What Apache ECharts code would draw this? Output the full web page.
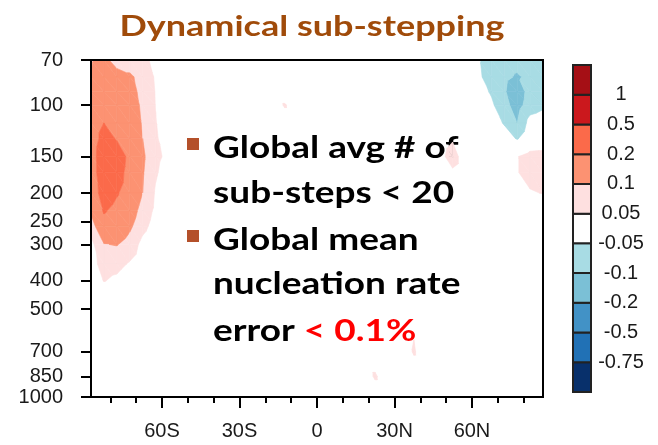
<!DOCTYPE html>
<html>
<head>
<meta charset="utf-8">
<script src="https://cdn.jsdelivr.net/npm/echarts@6/dist/echarts.min.js"></script>
<style>
  html, body { margin: 0; padding: 0; background: #fff; }
  #chart { width: 658px; height: 445px; }
</style>
</head>
<body>
<div id="chart"></div>
<script>
// Zonal-mean nucleation rate difference, latitude x pressure (hPa)
const latitudes = [-87.5, -82.5, -77.5, -72.5, -67.5, -62.5, -57.5, -52.5, -47.5, -42.5, -37.5, -32.5,
  -27.5, -22.5, -17.5, -12.5, -7.5, -2.5, 2.5, 7.5, 12.5, 17.5, 22.5, 27.5,
  32.5, 37.5, 42.5, 47.5, 52.5, 57.5, 62.5, 67.5, 72.5, 77.5, 82.5, 87.5];
const pressureLevels = [70, 80, 90, 100, 115, 130, 150, 170, 200, 230, 260, 300, 350, 400, 450, 500, 600, 700, 850, 1000];

// one row per pressure level, one column per latitude
const diffField = [
  [.095, .12, .07, .07, .065, .035, 0, 0,   0, 0, 0, 0, 0, 0, 0, 0,   0, 0, 0, 0, 0, 0, 0, 0,   0, 0, 0, 0, 0, -.01, -.045, -.07,   -.08, -.085, -.08, -.075],
  [.10, .14, .13, .11, .08, .045, .01, 0,   0, 0, 0, 0, 0, 0, 0, 0,   0, 0, 0, 0, 0, 0, 0, 0,   0, 0, 0, 0, 0, -.01, -.04, -.075,   -.09, -.105, -.09, -.08],
  [.10, .16, .15, .12, .085, .048, .01, 0,   0, 0, 0, 0, 0, 0, 0, 0,   0, 0, 0, 0, 0, 0, 0, 0,   0, 0, 0, 0, 0, -.005, -.03, -.055,   -.095, -.13, -.08, -.075],
  [.11, .18, .16, .13, .09, .049, .015, 0,   0, 0, 0, 0, 0, 0, 0, .058,   0, 0, 0, 0, 0, 0, 0, 0,   0, 0, 0, 0, 0, 0, -.02, -.04,   -.085, -.12, -.075, -.06],
  [.12, .20, .18, .14, .095, .052, .02, 0,   0, 0, 0, 0, 0, 0, 0, 0,   0, 0, 0, 0, 0, 0, 0, 0,   0, 0, 0, 0, 0, 0, 0, -.02,   -.055, -.10, -.03, -.02],
  [.12, .25, .19, .15, .10, .055, .03, 0,   0, 0, 0, 0, 0, 0, 0, 0,   0, 0, 0, 0, 0, 0, 0, 0,   0, 0, 0, 0, .04, 0, 0, 0,   -.02, -.055, -.01, -.01],
  [.13, .30, .27, .17, .11, .06, .04, 0,   0, 0, 0, 0, 0, 0, 0, 0,   0, 0, 0, 0, 0, 0, 0, 0,   0, 0, 0, .02, .09, 0, 0, 0,   0, .047, .075, .08],
  [.13, .29, .25, .16, .105, .055, .03, 0,   0, 0, 0, 0, 0, 0, 0, 0,   0, 0, 0, 0, 0, 0, 0, 0,   0, 0, 0, 0, .035, 0, 0, 0,   0, .047, .07, .075],
  [.12, .26, .21, .15, .10, .045, .02, 0,   0, 0, 0, 0, 0, 0, 0, 0,   0, 0, 0, 0, 0, 0, 0, 0,   0, 0, 0, 0, 0, 0, 0, 0,   0, .02, .045, .052],
  [.11, .21, .17, .13, .08, .04, .01, 0,   0, 0, 0, 0, 0, 0, 0, 0,   0, 0, 0, 0, 0, 0, 0, 0,   0, 0, 0, 0, 0, 0, 0, 0,   0, 0, 0, 0],
  [.07, .16, .14, .11, .065, .03, 0, 0,   0, 0, 0, 0, 0, 0, 0, 0,   0, 0, 0, 0, 0, 0, 0, 0,   0, 0, 0, 0, 0, 0, 0, 0,   0, 0, 0, 0],
  [.035, .098, .103, .08, .035, .01, 0, 0,   0, 0, 0, 0, 0, 0, 0, 0,   0, 0, 0, 0, 0, 0, 0, 0,   0, 0, 0, 0, 0, 0, 0, 0,   0, 0, 0, 0],
  [.03, .07, .065, .045, .02, 0, 0, 0,   0, 0, 0, 0, 0, 0, 0, 0,   0, 0, 0, 0, 0, 0, 0, 0,   0, 0, 0, 0, 0, 0, 0, 0,   0, 0, 0, 0],
  [.02, .052, .04, .02, 0, 0, 0, 0,   0, 0, 0, 0, 0, 0, 0, 0,   0, 0, 0, 0, 0, 0, 0, 0,   0, 0, 0, 0, 0, 0, 0, 0,   0, 0, 0, 0],
  [0, 0, 0, 0, 0, 0, 0, 0,   0, 0, 0, 0, 0, 0, 0, 0,   0, 0, 0, 0, 0, 0, 0, 0,   0, 0, 0, 0, 0, 0, 0, 0,   0, 0, 0, 0],
  [0, 0, 0, 0, 0, 0, 0, 0,   0, 0, 0, 0, 0, 0, 0, 0,   0, 0, 0, 0, 0, 0, 0, 0,   0, 0, 0, 0, 0, 0, 0, 0,   0, 0, 0, 0],
  [0, 0, 0, 0, 0, 0, 0, 0,   0, 0, 0, 0, 0, 0, 0, 0,   0, 0, 0, 0, 0, 0, 0, 0,   0, .045, 0, 0, 0, 0, 0, 0,   0, 0, 0, 0],
  [0, 0, 0, 0, 0, 0, 0, 0,   0, 0, 0, 0, 0, 0, 0, 0,   0, 0, 0, 0, 0, 0, 0, 0,   0, .058, 0, 0, 0, 0, 0, 0,   0, 0, 0, 0],
  [0, 0, 0, 0, 0, 0, 0, 0,   0, 0, 0, 0, 0, 0, 0, 0,   0, 0, 0, 0, 0, 0, .06, 0,   0, 0, 0, 0, 0, 0, 0, 0,   0, 0, 0, 0],
  [0, 0, 0, 0, 0, 0, 0, 0,   0, 0, 0, 0, 0, 0, 0, 0,   0, 0, 0, 0, 0, 0, 0, 0,   0, 0, 0, 0, 0, 0, 0, 0,   0, 0, 0, 0]
];

const pressureTicks = [70, 100, 150, 200, 250, 300, 400, 500, 700, 850, 1000];
const latTicks = [-60, -30, 0, 30, 60];
const latTickLabels = ['60S', '30S', '0', '30N', '60N'];
const latMinorTicks = [-80, -70, -50, -40, -20, -10, 10, 20, 40, 50, 70, 80];

// contour levels and fill colours (lowest band first)
const levelBounds = [-0.75, -0.5, -0.2, -0.1, -0.05, 0.05, 0.1, 0.2, 0.5, 1];
const levelLabels = ['-0.75', '-0.5', '-0.2', '-0.1', '-0.05', '0.05', '0.1', '0.2', '0.5', '1'];
const bandColors = ['#08306b', '#2171b5', '#4292c6', '#7bc0d6', '#a8dce4', '#ffffff',
  '#fee0e0', '#fc9272', '#fb6a4a', '#cb181d', '#a50f15'];

const bulletLines = [
  { bullet: true, text: 'Global avg # of' },
  { bullet: false, text: 'sub-steps < 20' },
  { bullet: true, text: 'Global mean' },
  { bullet: false, text: 'nucleation rate' },
  { bullet: false, text: 'error ', highlight: '< 0.1%' }
];

// keep the part of a polygon (x, y, value) on one side of a value threshold
function clipSide(pts, t, dir) {
  const res = [];
  for (let k = 0; k < pts.length; k++) {
    const a = pts[k], b = pts[(k + 1) % pts.length];
    const da = dir * (a[2] - t), db = dir * (b[2] - t);
    if (da >= 0) res.push(a);
    if ((da >= 0) !== (db >= 0)) {
      const f = da / (da - db);
      res.push([a[0] + f * (b[0] - a[0]), a[1] + f * (b[1] - a[1]), t]);
    }
  }
  return res;
}
function bandPolygon(tri, lo, hi) {
  let p = clipSide(tri, lo, 1);
  if (p.length >= 3) p = clipSide(p, hi, -1);
  return p;
}

const cells = [];
for (let j = 0; j < pressureLevels.length - 1; j++) {
  for (let i = 0; i < latitudes.length - 1; i++) {
    cells.push([latitudes[i], Math.log10(pressureLevels[j]), i, j]);
  }
}

function renderCell(params, api) {
  const i = api.value(2), j = api.value(3);
  const corner = (ii, jj) => {
    const p = api.coord([latitudes[ii], Math.log10(pressureLevels[jj])]);
    return [p[0], p[1], diffField[jj][ii]];
  };
  const a = corner(i, j), b = corner(i + 1, j), c = corner(i + 1, j + 1), d = corner(i, j + 1);
  const children = [];
  [[a, b, c], [a, c, d]].forEach(tri => {
    for (let k = 0; k < bandColors.length; k++) {
      if (k === 5) continue; // near-zero band stays blank
      const lo = k === 0 ? -1e6 : levelBounds[k - 1];
      const hi = k === bandColors.length - 1 ? 1e6 : levelBounds[k];
      const poly = bandPolygon(tri, lo, hi);
      if (poly.length >= 3) {
        children.push({
          type: 'polygon',
          shape: { points: poly.map(p => [p[0], p[1]]) },
          style: { fill: bandColors[k], stroke: bandColors[k], lineWidth: 0.6 }
        });
      }
    }
  });
  return { type: 'group', children };
}

function renderBox(params, api) {
  const k = api.value(2);
  const p0 = api.coord([0, k]);
  const p1 = api.coord([1, k + 1]);
  return {
    type: 'rect',
    shape: { x: p0[0], y: p1[1], width: p1[0] - p0[0], height: p0[1] - p1[1] },
    style: { fill: bandColors[k], stroke: '#222', lineWidth: 2 }
  };
}

// slide-style annotation set in a wide bold face
const textFont = 'Lato';
const textSize = 37;
const textSquash = 0.83;
const lineTops = [133, 178, 225, 269, 316];
const graphics = [{
  type: 'text', x: 312, y: 12, scaleY: 0.81,
  style: { text: 'Dynamical sub-stepping', font: 'bold 36px Lato', fill: '#a04b0a', textAlign: 'center' }
}];
bulletLines.forEach((ln, n) => {
  if (ln.bullet) {
    graphics.push({ type: 'rect', x: 187, y: lineTops[n] + 5, shape: { width: 12, height: 12 }, style: { fill: '#b4502a' } });
  }
  const rich = {
    t: { fontFamily: textFont, fontWeight: 'bold', fontSize: textSize, fill: '#000' },
    r: { fontFamily: textFont, fontWeight: 'bold', fontSize: textSize, fill: '#ff0000' }
  };
  graphics.push({
    type: 'text', x: 213, y: lineTops[n], scaleY: textSquash,
    style: {
      text: '{t|' + ln.text + '}' + (ln.highlight ? '{r|' + ln.highlight + '}' : ''),
      rich
    }
  });
});

const axisFont = { fontFamily: 'Liberation Sans', fontSize: 20, color: '#1a1a1a' };

const chart = echarts.init(document.getElementById('chart'), null, { renderer: 'canvas' });
chart.setOption({
  animation: false,
  backgroundColor: '#fff',
  grid: [
    { left: 91, top: 60, width: 452, height: 337, show: true, borderColor: '#000', borderWidth: 2, z: 5 },
    { left: 573, top: 65, width: 18, height: 327 }
  ],
  xAxis: [
    {
      gridIndex: 0, type: 'value', min: -87.5, max: 87.5, position: 'bottom',
      axisLine: { show: false, onZero: false },
      splitLine: { show: false },
      axisTick: { show: true, customValues: latTicks, length: 11, lineStyle: { color: '#000', width: 2 } },
      axisLabel: {
        customValues: latTicks, margin: 24, ...axisFont,
        formatter: v => latTickLabels[latTicks.indexOf(Math.round(v))]
      }
    },
    {
      gridIndex: 0, type: 'value', min: -87.5, max: 87.5, position: 'bottom',
      axisLine: { show: false, onZero: false },
      splitLine: { show: false },
      axisTick: { show: true, customValues: latMinorTicks, length: 6, lineStyle: { color: '#000', width: 2 } },
      axisLabel: { show: false }
    },
    { gridIndex: 1, type: 'value', min: 0, max: 1, show: false }
  ],
  yAxis: [
    {
      gridIndex: 0, type: 'value', inverse: true, position: 'left',
      min: Math.log10(70), max: Math.log10(1000),
      axisLine: { show: false, onZero: false },
      splitLine: { show: false },
      axisTick: { show: true, customValues: pressureTicks.map(Math.log10), length: 10, lineStyle: { color: '#000', width: 2 } },
      axisLabel: {
        customValues: pressureTicks.map(Math.log10), margin: 28, ...axisFont,
        formatter: v => String(Math.round(Math.pow(10, v)))
      }
    },
    {
      gridIndex: 1, type: 'value', min: 0, max: 11, position: 'right',
      axisLine: { show: false, onZero: false },
      splitLine: { show: false },
      axisTick: { show: false },
      axisLabel: {
        customValues: [1, 2, 3, 4, 5, 6, 7, 8, 9, 10], margin: 30, align: 'center', ...axisFont,
        formatter: v => levelLabels[Math.round(v) - 1]
      }
    }
  ],
  series: [
    {
      type: 'custom', xAxisIndex: 0, yAxisIndex: 0, clip: true,
      encode: { x: 0, y: 1 },
      data: cells,
      renderItem: renderCell,
      silent: true
    },
    {
      type: 'custom', xAxisIndex: 2, yAxisIndex: 1,
      encode: { x: 0, y: 1 },
      data: bandColors.map((c, k) => [0.5, k + 0.5, k]),
      renderItem: renderBox,
      silent: true
    }
  ],
  graphic: graphics
});
</script>
</body>
</html>
